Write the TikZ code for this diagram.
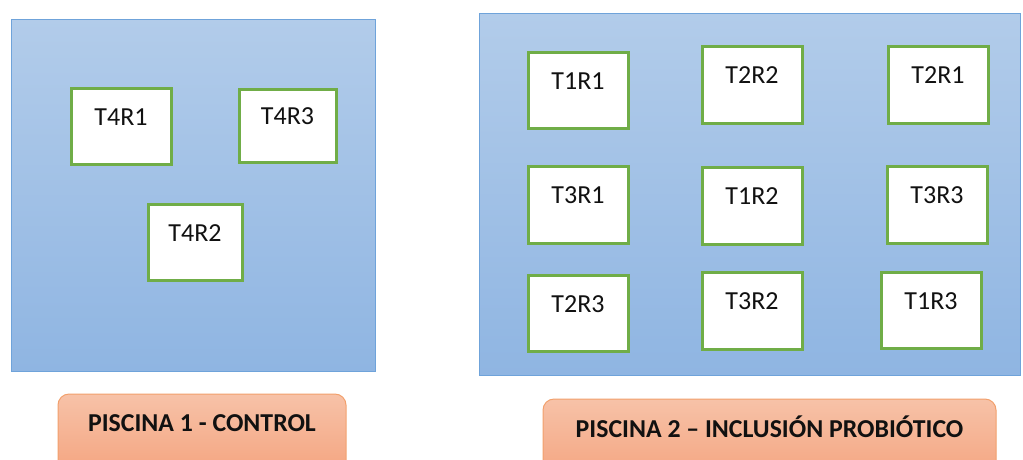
\documentclass[tikz,border=0pt]{standalone}
\usepackage{fontspec}
\setmainfont{Carlito}
\definecolor{pooltop}{HTML}{B2CCEA}
\definecolor{poolbot}{HTML}{8FB5E2}
\definecolor{poolline}{HTML}{6FA3DA}
\definecolor{tankline}{HTML}{70AD47}
\definecolor{tagtop}{HTML}{F7C2A8}
\definecolor{tagbot}{HTML}{F4A47F}
\definecolor{tagline}{HTML}{F2A06C}
\definecolor{ink}{HTML}{111111}
\tikzset{
  pool/.style={draw=poolline, line width=1pt, top color=pooltop, bottom color=poolbot},
  tank/.style={draw=tankline, line width=3pt, fill=white, inner sep=0pt},
  tanktxt/.style={font=\fontsize{26}{30}\selectfont, text=ink},
  tag/.style={draw=tagline, line width=1pt, rounded corners=11pt,
    top color=tagtop, bottom color=tagbot},
  tagtxt/.style={font=\bfseries\fontsize{25.8}{30}\selectfont, text=ink}
}
\begin{document}
\begin{tikzpicture}[x=1pt, y=-1pt]
\useasboundingbox (0,0) rectangle (1023,459);

% pools
\draw[pool] (11,19) rectangle (375,371);
\draw[pool] (479,13) rectangle (1020,375);

% tanks of pool 1
\node[tank, minimum width=100pt, minimum height=76pt] (t4r1) at (121,126) {};
\node[tank, minimum width=97pt, minimum height=73pt] (t4r3) at (287.5,125.5) {};
\node[tank, minimum width=94pt, minimum height=76pt] (t4r2) at (195,242) {};

% tanks of pool 2
\node[tank, minimum width=100pt, minimum height=76pt] (t1r1) at (578,90) {};
\node[tank, minimum width=100pt, minimum height=77pt] (t2r2) at (752,84.5) {};
\node[tank, minimum width=100pt, minimum height=77pt] (t2r1) at (938,84.5) {};
\node[tank, minimum width=100pt, minimum height=77pt] (t3r1) at (578,204.5) {};
\node[tank, minimum width=100pt, minimum height=77pt] (t1r2) at (752,205.5) {};
\node[tank, minimum width=100pt, minimum height=77pt] (t3r3) at (937,204.5) {};
\node[tank, minimum width=100pt, minimum height=76pt] (t2r3) at (578,313) {};
\node[tank, minimum width=100pt, minimum height=77pt] (t3r2) at (752,310.5) {};
\node[tank, minimum width=100pt, minimum height=76pt] (t1r3) at (931,310) {};

% tank labels, set in the upper part of each tank
\foreach \n/\t in {t4r1/T4R1, t4r3/T4R3, t4r2/T4R2,
                   t1r1/T1R1, t2r2/T2R2, t2r1/T2R1,
                   t3r1/T3R1, t1r2/T1R2, t3r3/T3R3,
                   t2r3/T2R3, t3r2/T3R2, t1r3/T1R3}
  \node[tanktxt] (\n-txt) at ([yshift=9pt]\n.center) {\t};

% captions
\draw[tag] (58,394) rectangle (346,475);
\node[tagtxt] (cap1) at (202,423) {PISCINA 1 - CONTROL};
\draw[tag] (543,399) rectangle (996,480);
\node[tagtxt] (cap2) at (769.5,427) {PISCINA 2 – INCLUSIÓN PROBIÓTICO};
\end{tikzpicture}
\end{document}
